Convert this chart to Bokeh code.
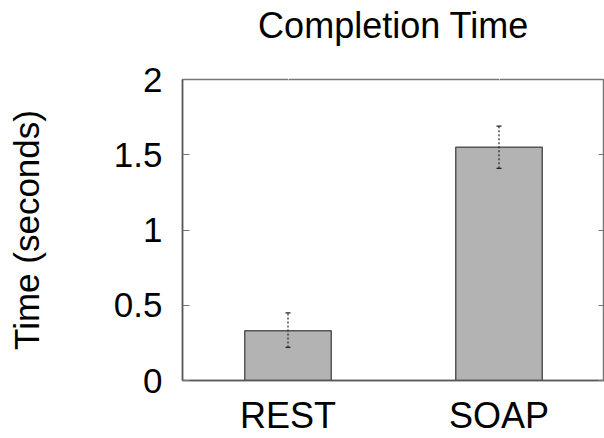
from bokeh.plotting import figure
from bokeh.models import (ColumnDataSource, Whisker, Range1d, FactorRange, LinearAxis,
                          CategoricalAxis, FixedTicker, TeeHead)
from bokeh.embed import file_html
from bokeh.resources import INLINE

categories = ["REST", "SOAP"]
means = [0.33, 1.55]
lower = [0.22, 1.41]
upper = [0.45, 1.69]
y_ticks = [0, 0.5, 1, 1.5, 2]
y_tick_labels = ["0", "0.5", "1", "1.5", "2"]
title_text = "Completion Time"

FONT = "Liberation Sans"

source = ColumnDataSource(data=dict(cat=categories, mean=means, lower=lower, upper=upper))

p = figure(width=604, height=438, x_range=FactorRange(*categories), y_range=Range1d(0, 2),
           output_backend="svg", toolbar_location=None, title=title_text,
           min_border_left=182, min_border_right=0, min_border_top=79, min_border_bottom=56)

p.vbar(x="cat", top="mean", width=0.41, source=source, fill_color="#b3b3b3",
       line_color="#555555", line_width=1.5)

w = Whisker(base="cat", upper="upper", lower="lower", source=source, level="overlay",
            line_color="#222222", line_width=1.2, line_dash="2 2")
w.upper_head = TeeHead(size=5, line_color="#222222", line_width=1.2)
w.lower_head = TeeHead(size=5, line_color="#222222", line_width=1.2)
p.add_layout(w)

# empty spacer axis above the frame, so the title sits higher
spacer = CategoricalAxis(axis_line_color=None, major_label_text_color=None,
                         major_tick_in=0, major_tick_out=34, major_tick_line_color="white",
                         major_label_standoff=0)
p.add_layout(spacer, "above")

p.title.text_font = FONT
p.title.text_font_size = "36px"
p.title.text_font_style = "normal"
p.title.align = "center"
p.title.text_color = "black"
p.title.standoff = 0

p.xgrid.grid_line_color = None
p.ygrid.grid_line_color = None
p.outline_line_color = "#777777"
p.outline_line_width = 1.5

p.yaxis.ticker = FixedTicker(ticks=y_ticks)
p.yaxis.major_label_overrides = {t: l for t, l in zip(y_ticks, y_tick_labels)}
p.yaxis.major_tick_in = 7
p.yaxis.major_tick_out = 0
p.yaxis.minor_tick_line_color = None
p.yaxis.major_tick_line_color = "#777777"
p.yaxis.axis_line_color = "#555555"
p.yaxis.axis_line_width = 1.5
p.yaxis.major_label_standoff = 20
p.yaxis.axis_label = "Time (seconds)"
p.yaxis.axis_label_text_font = FONT
p.yaxis.axis_label_text_font_size = "35px"
p.yaxis.axis_label_text_font_style = "normal"
p.yaxis.axis_label_text_color = "black"
p.yaxis.axis_label_standoff = 65
p.yaxis.major_label_text_font = FONT
p.yaxis.major_label_text_font_size = "35px"
p.yaxis.major_label_text_color = "black"

p.below[0].major_tick_line_color = None
p.below[0].axis_line_color = "#555555"
p.below[0].axis_line_width = 1.5
p.below[0].major_label_text_font = FONT
p.below[0].major_label_text_font_size = "36px"
p.below[0].major_label_text_color = "black"
p.below[0].major_label_standoff = 8

right = LinearAxis(ticker=FixedTicker(ticks=y_ticks), major_label_text_color=None,
                   major_tick_in=6, major_tick_out=0, minor_tick_line_color=None,
                   axis_line_color=None, major_tick_line_color="#777777",
                   major_label_standoff=0)
p.add_layout(right, "right")

open("out.html", "w").write(file_html(p, INLINE))
